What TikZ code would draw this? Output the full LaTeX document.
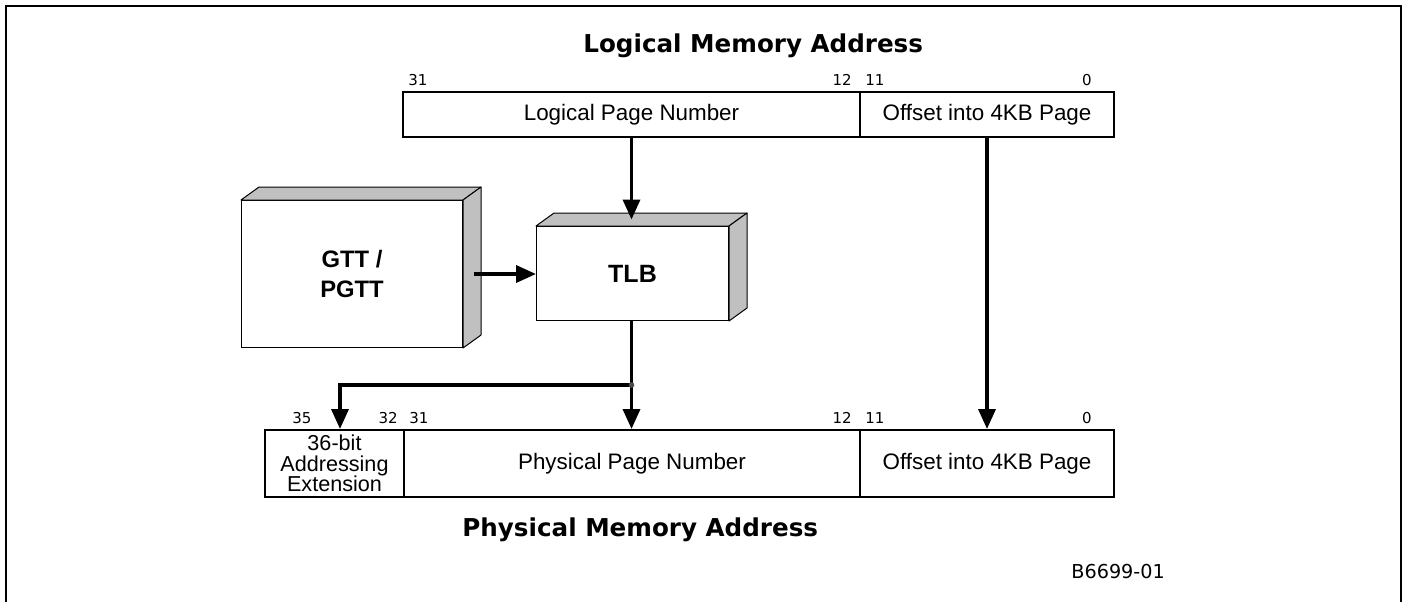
\documentclass[tikz,border=0pt]{standalone}
\usepackage{fontspec}
\setmainfont{Liberation Sans}
\newfontfamily\vfont{DejaVu Sans}
\usetikzlibrary{arrows.meta,calc}
\definecolor{boxgrey}{RGB}{192,192,192}
\begin{document}
\begin{tikzpicture}[x=0.5pt,y=-0.5pt,
  field/.style={draw, line width=1pt, anchor=north west, inner sep=0pt,
    font=\fontsize{11.2}{12}\selectfont, align=center},
  bit/.style={font=\vfont\fontsize{7.5}{8}\selectfont, inner sep=0pt, anchor=base west},
  bitr/.style={bit, anchor=base east},
  titletext/.style={font=\vfont\bfseries\fontsize{12.3}{14}\selectfont, inner sep=0pt, anchor=base west},
  conn/.style={line width=1.75pt, -{Triangle[length=10pt,width=8.5pt]}},
  plain/.style={line width=1.75pt},
  face/.style={fill=boxgrey, draw, line width=0.5pt, line join=round},
  front/.style={fill=white, draw, line width=0.5pt, anchor=north west, inner sep=0pt, align=center},
]
\useasboundingbox (0,0) rectangle (1406,602);
\draw[line width=1pt] (6,602) -- (6,6) -- (1401,6) -- (1401,602);

% titles
\node[titletext] (ltitle) at (583,52) {Logical Memory Address};
\node[titletext] (ptitle) at (462,536) {Physical Memory Address};
\node[bit, font=\vfont\fontsize{9.6}{10}\selectfont] (fig) at (1071,578) {B6699-01};

% logical address fields
\node[field, minimum width=228.5pt, minimum height=22.5pt] (lpn) at (402,91) {Logical Page Number};
\node[field, minimum width=127pt, minimum height=22.5pt] (loff) at (859,91) {Offset into 4KB Page};
\node[bit] (l31) at (408,85) {31};
\node[bitr] (l12) at (852,85) {12};
\node[bit] (l11) at (865,85) {11};
\node[bitr] (l0) at (1092,85) {0};

% physical address fields
\node[field, minimum width=69.5pt, minimum height=33.5pt, font=\fontsize{10.8}{10.2}\selectfont] (ext) at (264,429) {36-bit\\Addressing\\Extension};
\node[field, minimum width=228pt, minimum height=33.5pt] (ppn) at (403,429) {Physical Page Number};
\node[field, minimum width=127pt, minimum height=33.5pt] (poff) at (859,429) {Offset into 4KB Page};
\node[bit] (p35) at (292,423) {35};
\node[bitr] (p32) at (398,423) {32};
\node[bit] (p31) at (409,423) {31};
\node[bitr] (p12) at (852,423) {12};
\node[bit] (p11) at (865,423) {11};
\node[bitr] (p0) at (1092,423) {0};

% GTT / PGTT 3D box
\node[front, minimum width=110.5pt, minimum height=73.5pt, font=\bfseries\fontsize{11.9}{15}\selectfont] (gtt) at (241,200) {GTT /\\PGTT};
\draw[face] (gtt.north west) -- ++(18,-13) -- ([shift={(18,-13)}]gtt.north east) -- (gtt.north east) -- cycle;
\draw[face] (gtt.north east) -- ++(18,-13) -- ([shift={(18,-13)}]gtt.south east) -- (gtt.south east) -- cycle;

% TLB 3D box
\node[front, minimum width=96pt, minimum height=47pt, font=\bfseries\fontsize{12.5}{14}\selectfont] (tlb) at (536,226) {TLB};
\draw[face] (tlb.north west) -- ++(18,-13) -- ([shift={(18,-13)}]tlb.north east) -- (tlb.north east) -- cycle;
\draw[face] (tlb.north east) -- ++(18,-13) -- ([shift={(18,-13)}]tlb.south east) -- (tlb.south east) -- cycle;

% connectors
\coordinate (tlbtop) at ($(tlb.north)+(9,-6.5)$);
\coordinate (jy) at (0,385);
\coordinate (j) at (lpn.south |- jy);
\coordinate (ex) at (340,0);
\draw[conn] (lpn.south) -- (lpn.south |- tlbtop);
\draw[conn] ([xshift=5.5pt]gtt.east) -- (gtt.east -| tlb.west);
\draw[plain] (tlb.south -| j) -- (j);
\draw[conn] (j) -- (j |- ppn.north);
\draw[conn] (j) -- (j -| ex) -- (ex |- ext.north);
\fill[black!70] (j) circle (1.4pt);
\draw[conn] (loff.south) -- (loff.south |- poff.north);
\end{tikzpicture}
\end{document}
